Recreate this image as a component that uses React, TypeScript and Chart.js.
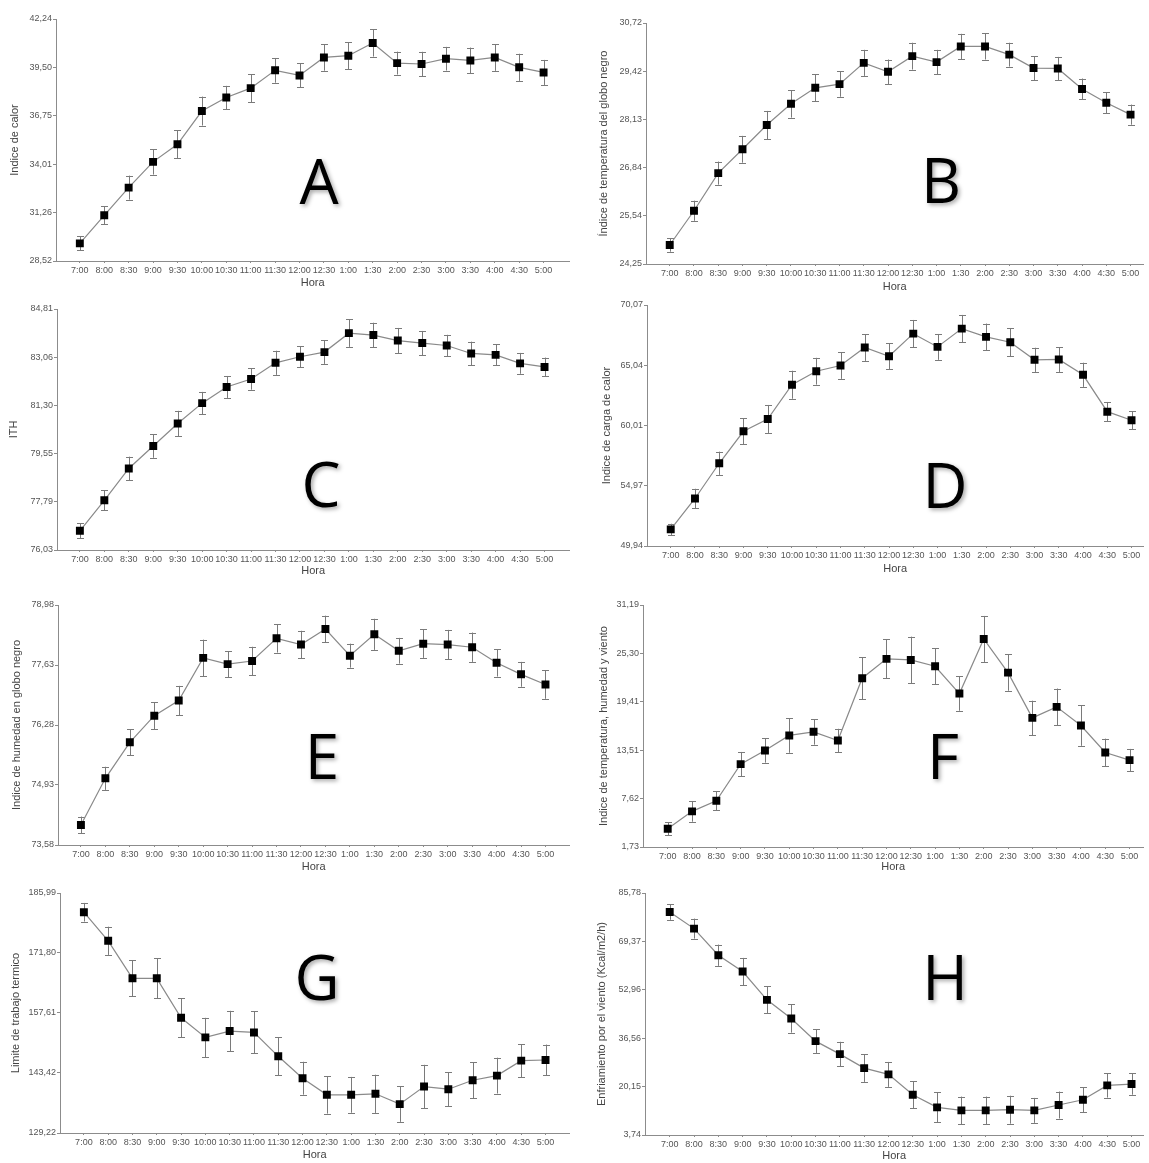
import { useEffect, useRef } from "react";
import { Chart, registerables } from "chart.js";

Chart.register(...registerables);

// ---------- data ----------
const HOURS = ["7:00", "8:00", "8:30", "9:00", "9:30", "10:00", "10:30", "11:00", "11:30", "12:00", "12:30", "1:00", "1:30", "2:00", "2:30", "3:00", "3:30", "4:00", "4:30", "5:00"];

const A_VALUES = [29.52, 31.11, 32.68, 34.14, 35.14, 37.02, 37.79, 38.32, 39.33, 39.04, 40.06, 40.16, 40.88, 39.74, 39.69, 39.99, 39.89, 40.06, 39.5, 39.21];
const A_ERRORS = [0.4, 0.51, 0.68, 0.72, 0.78, 0.82, 0.66, 0.8, 0.7, 0.68, 0.75, 0.76, 0.77, 0.65, 0.69, 0.67, 0.73, 0.76, 0.77, 0.71];
const A_TICKS = [28.52, 31.26, 34.01, 36.75, 39.5, 42.24];

const B_VALUES = [24.76, 25.68, 26.69, 27.33, 27.98, 28.55, 28.98, 29.08, 29.65, 29.41, 29.83, 29.67, 30.09, 30.09, 29.87, 29.51, 29.5, 28.95, 28.58, 28.26];
const B_ERRORS = [0.18, 0.27, 0.31, 0.36, 0.38, 0.37, 0.36, 0.34, 0.35, 0.33, 0.36, 0.33, 0.34, 0.35, 0.32, 0.32, 0.31, 0.28, 0.28, 0.27];
const B_TICKS = [24.25, 25.54, 26.84, 28.13, 29.42, 30.72];

const C_VALUES = [76.73, 77.84, 79.0, 79.82, 80.64, 81.38, 81.97, 82.26, 82.85, 83.07, 83.24, 83.93, 83.86, 83.66, 83.57, 83.48, 83.19, 83.14, 82.83, 82.7];
const C_ERRORS = [0.28, 0.37, 0.43, 0.43, 0.46, 0.41, 0.4, 0.39, 0.44, 0.39, 0.43, 0.5, 0.45, 0.46, 0.44, 0.39, 0.43, 0.38, 0.38, 0.34];
const C_TICKS = [76.03, 77.79, 79.55, 81.3, 83.06, 84.81];

const D_VALUES = [51.33, 53.91, 56.85, 59.52, 60.55, 63.41, 64.54, 65.02, 66.52, 65.79, 67.68, 66.57, 68.1, 67.41, 66.96, 65.49, 65.52, 64.24, 61.16, 60.44];
const D_ERRORS = [0.47, 0.81, 0.97, 1.08, 1.17, 1.17, 1.12, 1.12, 1.12, 1.07, 1.14, 1.08, 1.14, 1.11, 1.19, 1.01, 1.04, 1.01, 0.81, 0.74];
const D_TICKS = [49.94, 54.97, 60.01, 65.04, 70.07];

const E_VALUES = [74.03, 75.08, 75.89, 76.49, 76.83, 77.79, 77.65, 77.72, 78.23, 78.09, 78.44, 77.84, 78.32, 77.95, 78.11, 78.09, 78.03, 77.68, 77.42, 77.19];
const E_ERRORS = [0.19, 0.26, 0.29, 0.3, 0.33, 0.41, 0.29, 0.32, 0.32, 0.31, 0.3, 0.27, 0.35, 0.29, 0.32, 0.33, 0.33, 0.31, 0.28, 0.32];
const E_TICKS = [73.58, 74.93, 76.28, 77.63, 78.98];

const F_VALUES = [3.96, 6.07, 7.36, 11.82, 13.48, 15.31, 15.75, 14.7, 22.28, 24.63, 24.5, 23.73, 20.41, 27.06, 22.96, 17.45, 18.79, 16.52, 13.24, 12.31];
const F_ERRORS = [0.81, 1.26, 1.18, 1.48, 1.48, 2.11, 1.56, 1.42, 2.55, 2.37, 2.84, 2.19, 2.09, 2.8, 2.21, 2.09, 2.23, 2.47, 1.68, 1.36];
const F_TICKS = [1.73, 7.62, 13.51, 19.41, 25.3, 31.19];

const G_VALUES = [181.44, 174.68, 165.81, 165.81, 156.47, 151.83, 153.33, 153.01, 147.36, 142.18, 138.25, 138.25, 138.49, 136.05, 140.21, 139.58, 141.7, 142.8, 146.34, 146.49];
const G_ERRORS = [2.2, 3.34, 4.24, 4.71, 4.63, 4.63, 4.79, 4.95, 4.51, 3.89, 4.44, 4.24, 4.52, 4.2, 5.14, 4.04, 4.28, 4.24, 3.89, 3.65];
const G_TICKS = [129.22, 143.42, 157.61, 171.8, 185.99];

const H_VALUES = [79.35, 73.71, 64.68, 59.15, 49.56, 43.24, 35.56, 31.16, 26.42, 24.28, 17.39, 13.11, 12.09, 12.09, 12.32, 12.09, 13.9, 15.7, 20.55, 21.01];
const H_ERRORS = [2.65, 3.39, 3.61, 4.63, 4.63, 4.8, 4.01, 4.18, 4.68, 4.23, 4.57, 5.08, 4.68, 4.68, 4.74, 4.23, 4.57, 4.18, 4.12, 3.61];
const H_TICKS = [3.74, 20.15, 36.56, 52.96, 69.37, 85.78];

const X_TITLE = "Hora";

// ---------- layout (global page pixels) ----------
type Layout = {
  left: number; top: number; w: number; h: number;
  titleX: number; axisX: number; areaRight: number;
  areaTop: number; areaBottom: number;
  firstCat: number; lastCat: number; horaY: number;
  letterX: number; letterBase: number;
};

type PanelDef = {
  letter: string;
  yTitle: string;
  values: number[];
  errors: number[];
  ticks: number[];
  layout: Layout;
};

const PANELS: PanelDef[] = [
  { letter: "A", yTitle: "Indice de calor", values: A_VALUES, errors: A_ERRORS, ticks: A_TICKS,
    layout: { left: 0, top: 0, w: 575, h: 300, titleX: 15, axisX: 56, areaRight: 573, areaTop: 19, areaBottom: 261, firstCat: 80, lastCat: 547, horaY: 283, letterX: 319, letterBase: 204 } },
  { letter: "B", yTitle: "Índice de temperatura del globo negro", values: B_VALUES, errors: B_ERRORS, ticks: B_TICKS,
    layout: { left: 575, top: 0, w: 574, h: 300, titleX: 604, axisX: 646, areaRight: 1149, areaTop: 23, areaBottom: 264, firstCat: 670, lastCat: 1136, horaY: 287, letterX: 941, letterBase: 203 } },
  { letter: "C", yTitle: "ITH", values: C_VALUES, errors: C_ERRORS, ticks: C_TICKS,
    layout: { left: 0, top: 290, w: 575, h: 300, titleX: 14, axisX: 57, areaRight: 572, areaTop: 309, areaBottom: 550, firstCat: 80, lastCat: 547, horaY: 571, letterX: 321, letterBase: 507 } },
  { letter: "D", yTitle: "Indice de carga de calor", values: D_VALUES, errors: D_ERRORS, ticks: D_TICKS,
    layout: { left: 575, top: 290, w: 574, h: 300, titleX: 607, axisX: 647, areaRight: 1149, areaTop: 305, areaBottom: 546, firstCat: 671, lastCat: 1137, horaY: 569, letterX: 945, letterBase: 508 } },
  { letter: "E", yTitle: "Indice de humedad en globo negro", values: E_VALUES, errors: E_ERRORS, ticks: E_TICKS,
    layout: { left: 0, top: 580, w: 575, h: 300, titleX: 17, axisX: 58, areaRight: 571, areaTop: 605, areaBottom: 845, firstCat: 81, lastCat: 547, horaY: 867, letterX: 322, letterBase: 779 } },
  { letter: "F", yTitle: "Indice de temperatura, humedad y viento", values: F_VALUES, errors: F_ERRORS, ticks: F_TICKS,
    layout: { left: 575, top: 580, w: 574, h: 300, titleX: 604, axisX: 643, areaRight: 1149, areaTop: 605, areaBottom: 847, firstCat: 668, lastCat: 1135, horaY: 867, letterX: 943, letterBase: 779 } },
  { letter: "G", yTitle: "Limite de trabajo termico", values: G_VALUES, errors: G_ERRORS, ticks: G_TICKS,
    layout: { left: 0, top: 870, w: 575, h: 293, titleX: 16, axisX: 60, areaRight: 572, areaTop: 893, areaBottom: 1133, firstCat: 84, lastCat: 548, horaY: 1155, letterX: 317, letterBase: 1000 } },
  { letter: "H", yTitle: "Enfriamiento por el viento (Kcal/m2/h)", values: H_VALUES, errors: H_ERRORS, ticks: H_TICKS,
    layout: { left: 575, top: 870, w: 574, h: 293, titleX: 602, axisX: 645, areaRight: 1149, areaTop: 893, areaBottom: 1135, firstCat: 670, lastCat: 1137, horaY: 1156, letterX: 945, letterBase: 1000 } },
];

const FONT = "'Liberation Sans', Arial, sans-serif";
const AXIS_COLOR = "#8c8c8c";

const errorBarPlugin = {
  id: "errorBars",
  beforeDatasetsDraw(chart: any, _args: any, opts: any) {
    const errs: number[] = opts.errors || [];
    const ds = chart.data.datasets[0];
    const xs = chart.scales.x;
    const ys = chart.scales.y;
    const ctx = chart.ctx;
    ctx.save();
    ctx.strokeStyle = "#7a7a7a";
    ctx.lineWidth = 1;
    ds.data.forEach((p: any, i: number) => {
      const e = errs[i] || 0;
      const x = Math.round(xs.getPixelForValue(p.x)) + 0.5;
      const yT = ys.getPixelForValue(p.y + e);
      const yB = ys.getPixelForValue(p.y - e);
      ctx.beginPath();
      ctx.moveTo(x, yT);
      ctx.lineTo(x, yB);
      ctx.moveTo(x - 3.5, Math.round(yT) + 0.5);
      ctx.lineTo(x + 3.5, Math.round(yT) + 0.5);
      ctx.moveTo(x - 3.5, Math.round(yB) + 0.5);
      ctx.lineTo(x + 3.5, Math.round(yB) + 0.5);
      ctx.stroke();
    });
    ctx.restore();
  },
};

const letterPlugin = {
  id: "panelLetter",
  afterDraw(chart: any, _args: any, opts: any) {
    const ctx = chart.ctx;
    ctx.save();
    ctx.font = "62px 'Open Sans', 'Noto Sans', sans-serif";
    ctx.textAlign = "center";
    ctx.textBaseline = "alphabetic";
    ctx.fillStyle = "#000";
    ctx.shadowColor = "rgba(0,0,0,0.35)";
    ctx.shadowBlur = 4;
    ctx.shadowOffsetX = 2;
    ctx.shadowOffsetY = 2;
    ctx.fillText(opts.text, opts.x, opts.y);
    ctx.restore();
  },
};

function fmt(v: number) {
  return Number(v).toFixed(2).replace(".", ",");
}

function Panel({ def }: { def: PanelDef }) {
  const ref = useRef<HTMLCanvasElement>(null);
  useEffect(() => {
    const L = def.layout;
    const step = (L.lastCat - L.firstCat) / (HOURS.length - 1);
    const xMin = -(L.firstCat - L.axisX) / step;
    const xMax = HOURS.length - 1 + (L.areaRight - L.lastCat) / step;
    const titleHalf = 6.6;
    const padLeft = L.titleX - titleHalf - L.left;
    const yAxisWidth = L.axisX - (L.left + padLeft);
    const padTop = L.areaTop - L.top;
    const padRight = L.left + L.w - L.areaRight;
    const xAxisHeight = L.horaY + titleHalf - L.areaBottom;
    const padBottom = Math.max(0, L.top + L.h - (L.horaY + titleHalf));

    const chart = new Chart(ref.current!, {
      type: "line",
      data: {
        datasets: [
          {
            data: def.values.map((v, i) => ({ x: i, y: v })),
            borderColor: "#8a8a8a",
            borderWidth: 1.2,
            pointStyle: "rect",
            pointRadius: 5.6,
            pointBackgroundColor: "#000",
            pointBorderColor: "#000",
            pointBorderWidth: 0,
            tension: 0,
            fill: false,
          },
        ],
      },
      options: {
        responsive: false,
        animation: false,
        events: [],
        layout: { padding: { left: padLeft, top: padTop, right: padRight, bottom: padBottom } },
        plugins: {
          legend: { display: false },
          tooltip: { enabled: false },
          errorBars: { errors: def.errors },
          panelLetter: { text: def.letter, x: L.letterX - L.left, y: L.letterBase - L.top },
        } as any,
        scales: {
          x: {
            type: "linear",
            min: xMin,
            max: xMax,
            afterBuildTicks: (scale: any) => {
              scale.ticks = HOURS.map((_, i) => ({ value: i }));
            },
            afterFit: (scale: any) => {
              scale.height = xAxisHeight;
            },
            ticks: {
              autoSkip: false,
              maxRotation: 0,
              minRotation: 0,
              padding: 2,
              color: "#555",
              font: { family: FONT, size: 9 },
              callback: (v: any) => HOURS[Number(v)] ?? "",
            },
            grid: { display: true, drawOnChartArea: false, drawTicks: true, tickLength: 2, color: AXIS_COLOR },
            border: { display: true, color: AXIS_COLOR, width: 1 },
            title: {
              display: true,
              text: X_TITLE,
              color: "#444",
              font: { family: FONT, size: 11 },
              padding: 0,
            },
          },
          y: {
            type: "linear",
            min: def.ticks[0],
            max: def.ticks[def.ticks.length - 1],
            afterBuildTicks: (scale: any) => {
              scale.ticks = def.ticks.map((v) => ({ value: v }));
            },
            afterFit: (scale: any) => {
              scale.width = yAxisWidth;
            },
            ticks: {
              padding: 1,
              color: "#555",
              font: { family: FONT, size: 9 },
              callback: (v: any) => fmt(v),
            },
            grid: { display: true, drawOnChartArea: false, drawTicks: true, tickLength: 3, color: AXIS_COLOR },
            border: { display: true, color: AXIS_COLOR, width: 1 },
            title: {
              display: true,
              text: def.yTitle,
              color: "#444",
              font: { family: FONT, size: 11 },
              padding: 0,
            },
          },
        },
      },
      plugins: [errorBarPlugin, letterPlugin],
    } as any);
    return () => chart.destroy();
  }, [def]);

  const L = def.layout;
  return (
    <canvas
      ref={ref}
      width={L.w}
      height={L.h}
      style={{ position: "absolute", left: L.left, top: L.top, width: L.w, height: L.h }}
    />
  );
}

export default function App() {
  return (
    <div style={{ position: "absolute", left: 0, top: 0, width: 1149, height: 1163, background: "#fff", overflow: "hidden" }}>
      {PANELS.map((p) => (
        <Panel key={p.letter} def={p} />
      ))}
    </div>
  );
}
